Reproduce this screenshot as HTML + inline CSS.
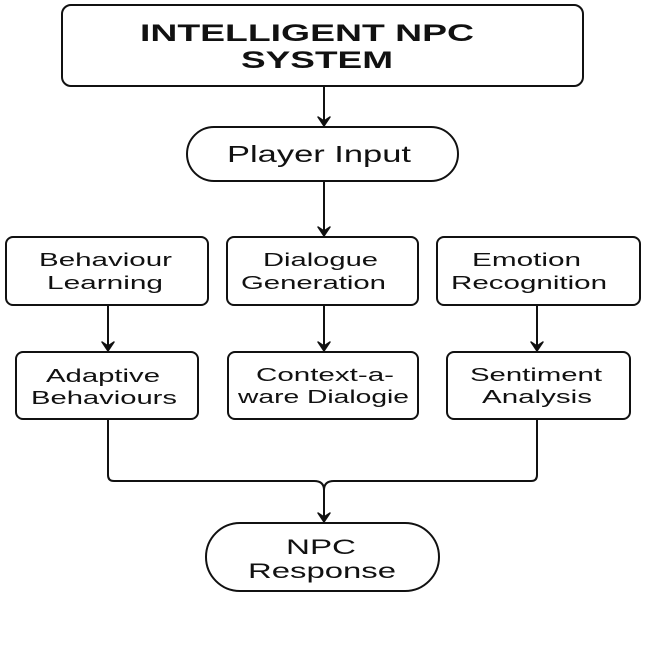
<!DOCTYPE html>
<html><head><style>
html,body{margin:0;padding:0;background:#fff;}
svg text{font-family:"Liberation Sans",Arial,sans-serif;fill:#111;text-anchor:start;}
</style></head><body>
<svg width="645" height="659" viewBox="0 0 645 659" xmlns="http://www.w3.org/2000/svg">
<g fill="#fff" stroke="#111" stroke-width="2">
<rect x="62" y="5" width="521" height="81" rx="9"/>
<rect x="187" y="127" width="271" height="54" rx="27"/>
<rect x="6" y="237" width="202" height="68" rx="7"/>
<rect x="227" y="237" width="191" height="68" rx="7"/>
<rect x="437" y="237" width="203" height="68" rx="7"/>
<rect x="16" y="352" width="182" height="67" rx="7"/>
<rect x="228" y="352" width="190" height="67" rx="7"/>
<rect x="447" y="352" width="183" height="67" rx="7"/>
<rect x="206" y="523" width="233" height="68" rx="34"/>
</g>
<g fill="none" stroke="#111" stroke-width="2">
<line x1="324" y1="86" x2="324" y2="122"/>
<line x1="324" y1="181" x2="324" y2="232"/>
<line x1="108" y1="305" x2="108" y2="347"/>
<line x1="324" y1="305" x2="324" y2="347"/>
<line x1="537" y1="305" x2="537" y2="347"/>
<path d="M108,419 V475 Q108,481 114,481 H314 Q324,481 324,490"/>
<path d="M537,419 V475 Q537,481 531,481 H334 Q324,481 324,490"/>
<line x1="324" y1="490" x2="324" y2="518"/>
</g>
<g fill="#111" stroke="#111" stroke-width="1.5" stroke-linejoin="round">
<path d="M318,117 L324,126 L330,117 L324,121 Z"/>
<path d="M318,227 L324,236 L330,227 L324,231 Z"/>
<path d="M102,342 L108,351 L114,342 L108,346 Z"/>
<path d="M318,342 L324,351 L330,342 L324,346 Z"/>
<path d="M531,342 L537,351 L543,342 L537,346 Z"/>
<path d="M318,513 L324,522 L330,513 L324,517 Z"/>
</g>
<g font-weight="bold" font-size="24">
<text x="140" y="41" textLength="334" lengthAdjust="spacingAndGlyphs">INTELLIGENT NPC</text>
<text x="241" y="68" textLength="152" lengthAdjust="spacingAndGlyphs">SYSTEM</text>
</g>
<text x="227" y="162" font-size="23" textLength="184" lengthAdjust="spacingAndGlyphs">Player Input</text>
<g font-size="18.5">
<text x="39" y="266" textLength="133" lengthAdjust="spacingAndGlyphs">Behaviour</text>
<text x="47" y="289" textLength="116" lengthAdjust="spacingAndGlyphs">Learning</text>
<text x="263" y="266" textLength="115" lengthAdjust="spacingAndGlyphs">Dialogue</text>
<text x="241" y="289" textLength="145" lengthAdjust="spacingAndGlyphs">Generation</text>
<text x="472" y="266" textLength="109" lengthAdjust="spacingAndGlyphs">Emotion</text>
<text x="451" y="289" textLength="156" lengthAdjust="spacingAndGlyphs">Recognition</text>
<text x="46" y="382" textLength="114" lengthAdjust="spacingAndGlyphs">Adaptive</text>
<text x="31" y="404" textLength="146" lengthAdjust="spacingAndGlyphs">Behaviours</text>
<text x="256" y="381" textLength="138" lengthAdjust="spacingAndGlyphs">Context-a-</text>
<text x="238" y="403" textLength="171" lengthAdjust="spacingAndGlyphs">ware Dialogie</text>
<text x="470" y="381" textLength="132" lengthAdjust="spacingAndGlyphs">Sentiment</text>
<text x="482" y="403" textLength="110" lengthAdjust="spacingAndGlyphs">Analysis</text>
</g>
<g font-size="21">
<text x="286" y="554" textLength="70" lengthAdjust="spacingAndGlyphs">NPC</text>
<text x="248" y="578" textLength="148" lengthAdjust="spacingAndGlyphs">Response</text>
</g>
</svg>
</body></html>
